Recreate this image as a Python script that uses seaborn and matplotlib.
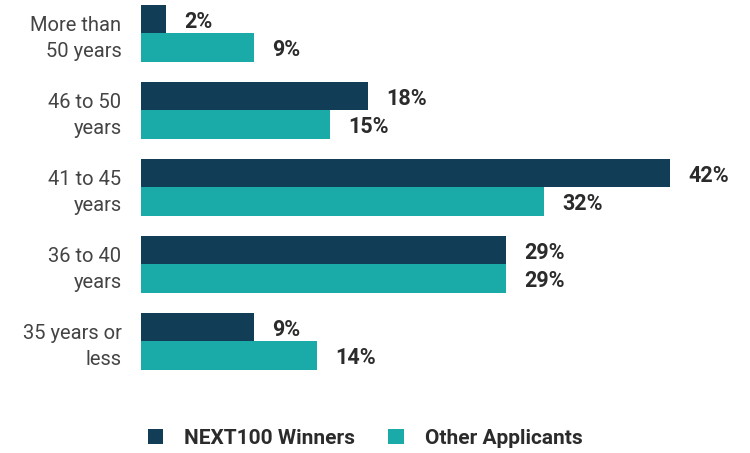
import pandas as pd
import matplotlib
matplotlib.use("Agg")
import matplotlib.pyplot as plt
import seaborn as sns
from matplotlib.patches import Patch

# data
age_groups = ["More than\n50 years", "46 to 50\nyears", "41 to 45\nyears", "36 to 40\nyears", "35 years or\nless"]
winners = [2, 18, 42, 29, 9]
others = [9, 15, 32, 29, 14]
series = ["NEXT100 Winners", "Other Applicants"]
colors = ["#123D57", "#1AABA8"]

df = pd.DataFrame({
    "age": age_groups * 2,
    "pct": winners + others,
    "group": [series[0]] * len(winners) + [series[1]] * len(others),
})

sns.set_style("white")
plt.rcParams["font.family"] = ["Roboto", "DejaVu Sans"]

fig = plt.figure(figsize=(7.5, 4.53), dpi=100)
ax = fig.add_axes([141 / 750, 1 - 380 / 453, 630 / 750, 380 / 453])

sns.barplot(data=df, y="age", x="pct", hue="group", orient="h",
            palette=colors, width=0.74, ax=ax, legend=False, saturation=1,
            linewidth=0)

ax.set_xlim(0, 50)
ax.set_ylim(4.5, -0.435)
ax.set_xlabel("")
ax.set_ylabel("")
ax.set_xticks([])
ax.tick_params(axis="y", length=0, pad=14)
for lbl in ax.get_yticklabels():
    lbl.set_fontsize(14.5)
    lbl.set_color("#444444")
    lbl.set_linespacing(1.45)
sns.despine(ax=ax, left=True, bottom=True)

# value labels
for cont in ax.containers:
    txts = ax.bar_label(cont, labels=[f"{v:.0f}%" for v in cont.datavalues], padding=13,
                        fontsize=15.5, fontweight="bold", color="#2B2B2B")
    for t in txts:
        t.set_va("center_baseline")

handles = [Patch(facecolor=c, edgecolor="none") for c in colors]
leg = fig.legend(handles, series, loc="center", bbox_to_anchor=(365 / 750, 1 - 438 / 453),
                 ncol=2, frameon=False, handlelength=0.75, handleheight=0.75,
                 handletextpad=1.0, columnspacing=1.6,
                 prop={"size": 15, "weight": "bold"})
for t in leg.get_texts():
    t.set_color("#2B2B2B")

fig.savefig("out.png", dpi=100)
